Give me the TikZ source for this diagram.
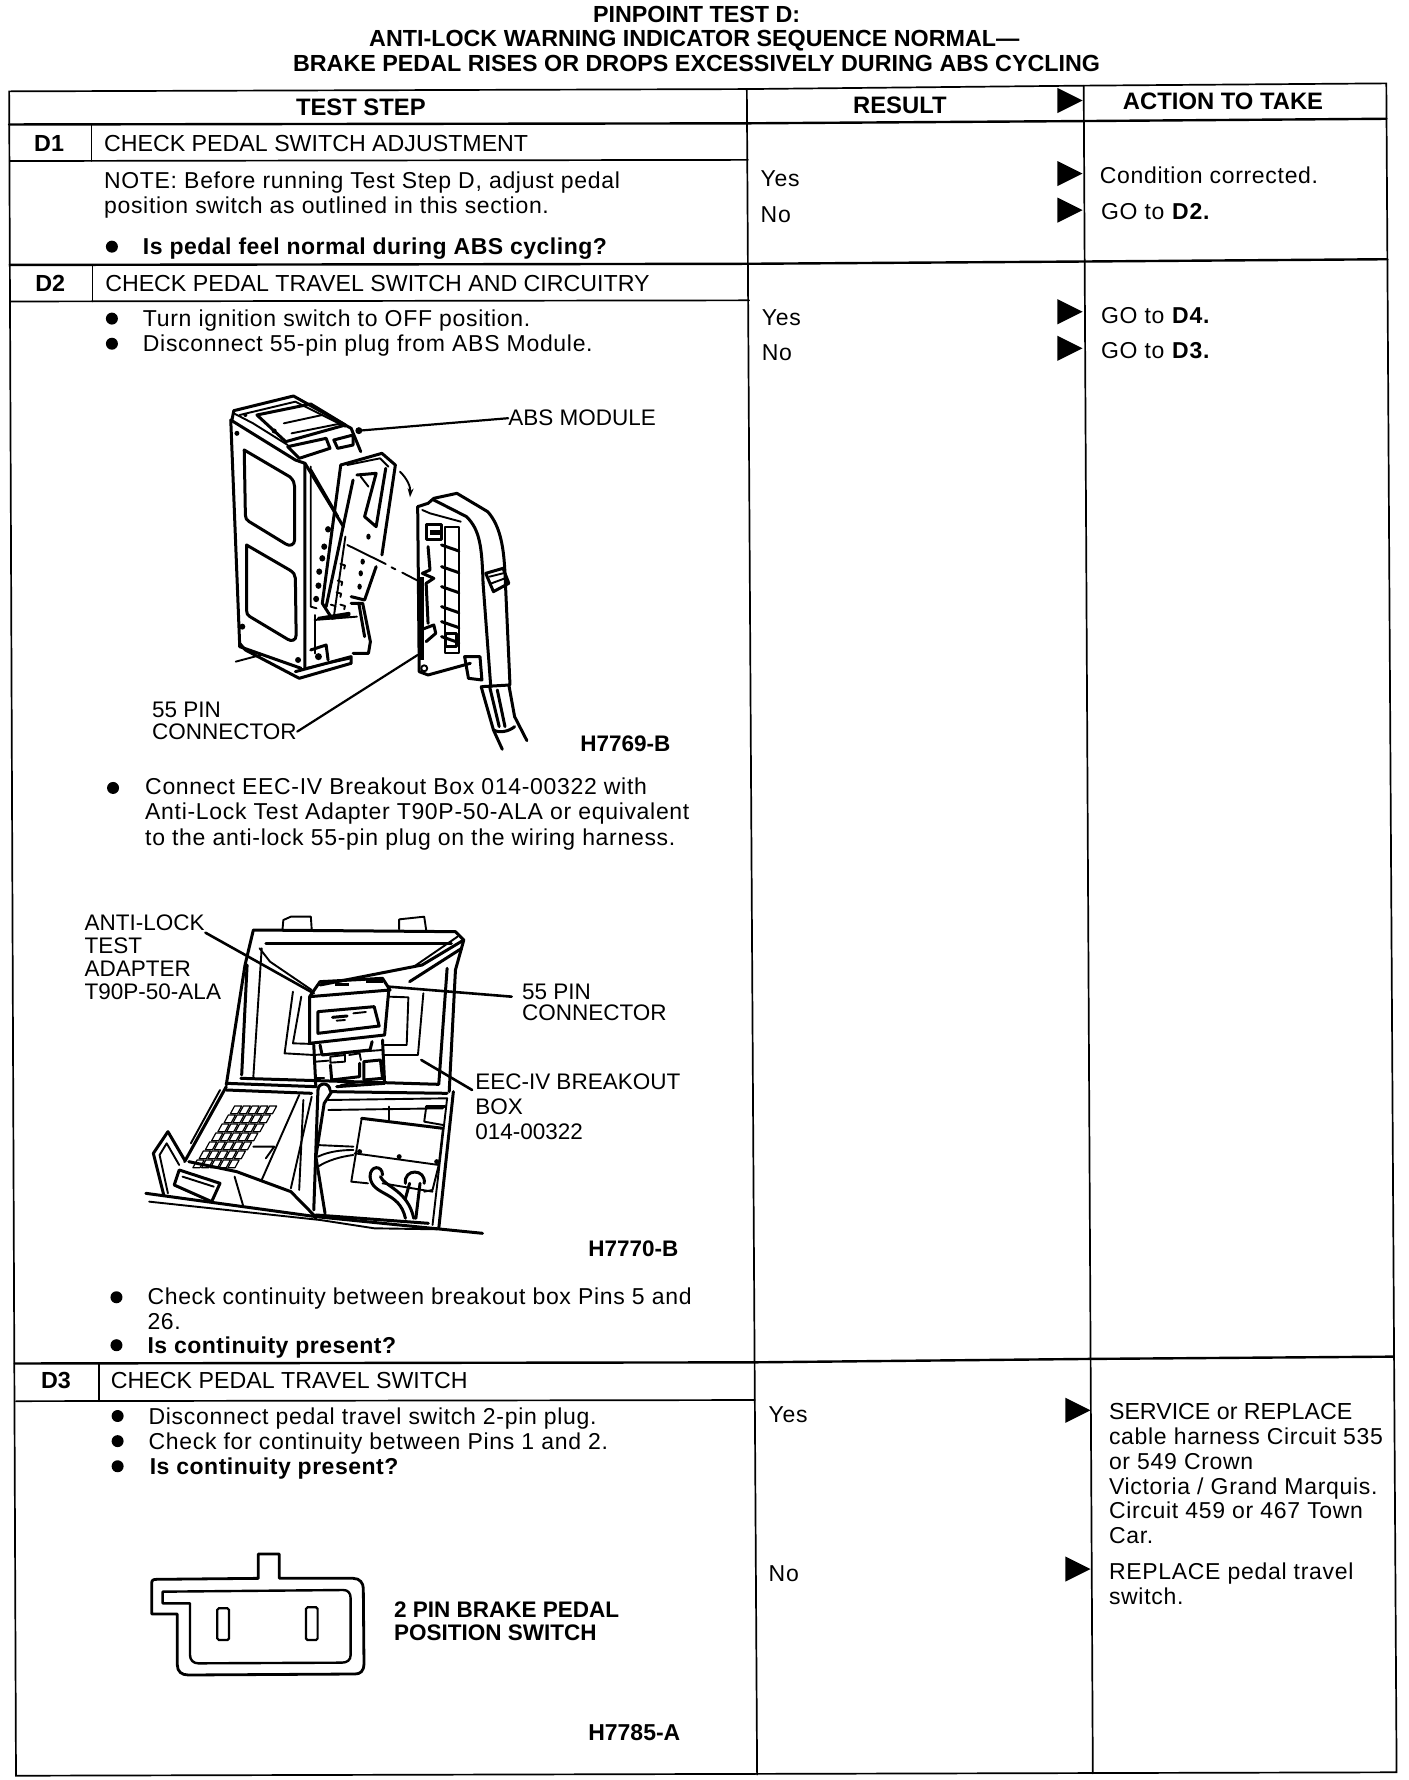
\documentclass[tikz,border=0pt]{standalone}
\usepackage{fontspec}
\setmainfont{Liberation Sans}
\newfontfamily\lsp[LetterSpace=3]{Liberation Sans}
\newfontfamily\lspb[LetterSpace=2.2]{Liberation Sans}
\usetikzlibrary{arrows.meta}
\tikzset{
 lab/.style={anchor=base west,inner sep=0pt,font=\fontsize{22.5}{25}\selectfont},
 blab/.style={lab,font=\fontsize{22.5}{25}\selectfont\bfseries},
 txt/.style={lab,font=\lsp\fontsize{23}{25}\selectfont},
 captxt/.style={lab,font=\fontsize{23.2}{25}\selectfont},
 btxt/.style={lab,font=\lspb\fontsize{23}{25}\selectfont\bfseries},
 ctr/.style={lab,anchor=base,font=\fontsize{23.3}{25}\selectfont\bfseries},
 hdr/.style={ctr,font=\fontsize{23.8}{25}\selectfont\bfseries},
 rule/.style={line width=1.7pt,line cap=round},
 heavy/.style={line width=2.4pt,line cap=round},
 art/.style={line width=1.9pt,line join=round,line cap=round},
 artb/.style={line width=3pt,line join=round,line cap=round},
 artt/.style={line width=1.2pt,line join=round,line cap=round},
 lead/.style={line width=2.2pt,line cap=round},
 tri/.style={fill=black,draw=none},
 bull/.style={circle,fill=black,inner sep=0pt,minimum size=12pt}
}
\newcommand{\Tri}[2]{\fill[tri] (#1,#2-11) -- (#1+22,#2) -- (#1,#2+11) -- cycle;}
\begin{document}
\begin{tikzpicture}[x=1pt,y=-1pt]
\useasboundingbox (0,0) rectangle (1408,1780);
\fill[white] (0,0) rectangle (1408,1780);
\begin{scope}[x=1.14193pt,y=-1.14193pt]
% titles
\node[ctr] (t1) at (610,20) {PINPOINT TEST D:};
\node[ctr] (t2) at (608,41) {ANTI-LOCK WARNING INDICATOR SEQUENCE NORMAL—};
\node[ctr] (t3) at (610,63) {BRAKE PEDAL RISES OR DROPS EXCESSIVELY DURING ABS CYCLING};
% table
\draw[rule] (8,80) -- (654,78) -- (949,75) -- (1214,73) -- (1223,1552) -- (14,1555) -- cycle;
\draw[rule] (654,78) -- (663,1554);
\draw[rule] (949,75) -- (957,1553);
\draw[heavy] (8,109) -- (654,108) -- (949,106) -- (1214,104);
\draw[rule] (8.5,141) -- (655,140);
\draw[rule] (80,109) -- (80,141);
\draw[heavy] (8.5,232) -- (655,231) -- (950,229) -- (1215,227);
\draw[rule] (9,264) -- (656,263);
\draw[rule] (81,232) -- (81,264);
\draw[heavy] (13,1194) -- (660,1193) -- (955,1190) -- (1220,1188);
\draw[rule] (14,1227) -- (661,1226);
\draw[rule] (87,1194) -- (87,1227);
% arrows
\Tri{926}{88} \Tri{926}{152} \Tri{926}{184} \Tri{926}{273} \Tri{926}{305} \Tri{933}{1235} \Tri{933}{1374}
% headers
\node[hdr] (h1) at (316,101) {TEST STEP};
\node[hdr] (h2) at (788,99) {RESULT};
\node[hdr] (h3) at (1071,96) {ACTION TO TAKE};
% D1
\node[ctr] (d1) at (43,133) {D1};
\node[captxt] (d1t) at (91,133) {CHECK PEDAL SWITCH ADJUSTMENT};
\node[txt] (n1) at (91,165) {NOTE: Before running Test Step D, adjust pedal};
\node[txt] (n2) at (91,187) {position switch as outlined in this section.};
\node[bull] (b1) at (98,216) {};
\node[btxt] (q1) at (125,223) {Is pedal feel normal during ABS cycling?};
\node[txt] (y1) at (666,163) {Yes};
\node[txt] (no1) at (666,195) {No};
\node[txt] (a1) at (963,161) {Condition corrected.};
\node[txt] (a2) at (964,192) {GO to \textbf{D2.}};
% D2
\node[ctr] (d2) at (44,255) {D2};
\node[captxt] (d2t) at (92,255) {CHECK PEDAL TRAVEL SWITCH AND CIRCUITRY};
\node[bull] (b2) at (98,279) {};
\node[txt] (s1) at (125,286) {Turn ignition switch to OFF position.};
\node[bull] (b3) at (98,301) {};
\node[txt] (s2) at (125,308) {Disconnect 55-pin plug from ABS Module.};
\node[txt] (y2) at (667,285) {Yes};
\node[txt] (no2) at (667,316) {No};
\node[txt] (a3) at (964,283) {GO to \textbf{D4.}};
\node[txt] (a4) at (964,314) {GO to \textbf{D3.}};
\node[lab] (abs) at (445,373) {ABS MODULE};
\node[lab] (p1a) at (133,628) {55 PIN};
\node[lab] (p1b) at (133,648) {CONNECTOR};
\node[blab] (f1) at (508,658) {H7769-B};
\node[bull] (b4) at (99,690) {};
\node[txt] (s3) at (127,696) {Connect EEC-IV Breakout Box 014-00322 with};
\node[txt] (s4) at (127,718) {Anti-Lock Test Adapter T90P-50-ALA or equivalent};
\node[txt] (s5) at (127,740) {to the anti-lock 55-pin plug on the wiring harness.};
\node[lab] (l1) at (74,815) {ANTI-LOCK};
\node[lab] (l2) at (74,835) {TEST};
\node[lab] (l3) at (74,855) {ADAPTER};
\node[lab] (l4) at (74,875) {T90P-50-ALA};
\node[lab] (p2a) at (457,875) {55 PIN};
\node[lab] (p2b) at (457,894) {CONNECTOR};
\node[lab] (e1) at (416,954) {EEC-IV BREAKOUT};
\node[lab] (e2) at (416,976) {BOX};
\node[lab] (e3) at (416,998) {014-00322};
\node[blab] (f2) at (515,1100) {H7770-B};
\node[bull] (b5) at (102,1136) {};
\node[txt] (s6) at (129,1142) {Check continuity between breakout box Pins 5 and};
\node[txt] (s7) at (129,1164) {26.};
\node[bull] (b6) at (102,1178) {};
\node[btxt] (q2) at (129,1185) {Is continuity present?};
% D3
\node[ctr] (d3) at (49,1216) {D3};
\node[captxt] (d3t) at (97,1216) {CHECK PEDAL TRAVEL SWITCH};
\node[bull] (b7) at (103,1240) {};
\node[txt] (s8) at (130,1247) {Disconnect pedal travel switch 2-pin plug.};
\node[bull] (b8) at (103,1262) {};
\node[txt] (s9) at (130,1269) {Check for continuity between Pins 1 and 2.};
\node[bull] (b9) at (103,1284) {};
\node[btxt] (q3) at (131,1291) {Is continuity present?};
\node[txt] (y3) at (673,1246) {Yes};
\node[txt] (no3) at (673,1385) {No};
\node[captxt] (r1) at (971,1243) {SERVICE or REPLACE};
\node[txt] (r2) at (971,1265) {cable harness Circuit 535};
\node[txt] (r3) at (971,1287) {or 549 Crown};
\node[txt] (r4) at (971,1309) {Victoria / Grand Marquis.};
\node[txt] (r5) at (971,1330) {Circuit 459 or 467 Town};
\node[txt] (r6) at (971,1352) {Car.};
\node[txt] (r7) at (971,1383) {REPLACE pedal travel};
\node[txt] (r8) at (971,1405) {switch.};
\node[blab] (sw1) at (345,1416) {2 PIN BRAKE PEDAL};
\node[blab] (sw2) at (345,1437) {POSITION SWITCH};
\node[btxt] (f3) at (515,1524) {\fontspec{Liberation Sans}H7785-A};
\end{scope}

% ===== ABS module drawing =====
\begin{scope}[shift={(130,370)},x=0.3846pt,y=-0.3333pt]
% top
\draw[artb] (265,150) -- (270,122) -- (425,78) -- (575,175) -- (600,245);
\draw[art] (285,135) -- (430,95) -- (560,170);
\draw[artb] (330,135) -- (470,102) -- (560,165) -- (405,215) -- cycle;
\draw[art] (400,160) -- (500,135);
\draw[art] (420,190) -- (550,160);
\draw[artb] (410,230) -- (510,205) -- (520,235) -- (440,265) -- cycle;
\draw[artb] (530,210) -- (580,195) -- (580,225) -- (540,235) -- cycle;
\draw[art] (270,130) -- (320,160) -- (410,225);
\fill (375,183) circle (2.5pt);
\fill (278,190) circle (2.5pt);
\fill (300,135) circle (2pt);
% left face
\draw[artb] (262,150) -- (285,820) -- (285,830) -- (445,895);
\draw[artb] (262,150) -- (430,270) -- (455,280) -- (455,895);
\draw[artb] (297,240) -- (415,320) .. controls (425,330) and (428,340) .. (428,350) -- (428,510) .. controls (428,525) and (415,530) .. (405,522) -- (310,455) .. controls (303,450) and (300,445) .. (300,435) -- cycle;
\draw[artb] (303,525) -- (415,600) .. controls (425,607) and (430,615) .. (430,625) -- (432,795) .. controls (432,812) and (420,815) .. (410,808) -- (312,740) .. controls (305,735) and (303,730) .. (303,720) -- cycle;
% bottom
\draw[art] (275,875) -- (340,855);
\draw[artb] (285,820) -- (300,840) -- (440,925) -- (575,880) -- (575,860) -- (430,905);
\draw[art] (455,895) -- (575,865);
\fill (292,770) circle (3pt);
\fill (437,870) circle (3pt);
\fill (490,860) circle (3.5pt);
\draw[artb] (470,840) -- (510,825) -- (515,870);
% right side panel
\draw[artb] (455,280) -- (555,470);
\draw[artb] (470,300) -- (540,440);
\draw[art] (470,290) -- (470,710) -- (485,715);
\draw[artb] (575,700) -- (605,700) -- (625,815) -- (620,850) -- (580,850);
\draw[artb] (595,700) -- (610,800);
\draw[art] (480,735) -- (480,850);
\draw[artb] (490,745) -- (570,730);
\draw[art] (480,750) -- (590,740);
\foreach \a/\b in {515/478,505/530,500/565,492/605,490/647,484/687} \fill (\a,\b) ellipse (3pt and 3.2pt);
% lever
\draw[artb] (548,285) -- (655,250) -- (690,285) -- (655,555);
\draw[artb] (548,285) -- (500,700) -- (525,745) -- (570,735);
\draw[artb] (580,330) -- (510,710);
\draw[art] (565,285) -- (650,265) -- (672,290);
\draw[artb] (590,315) -- (640,310) -- (610,440) -- (640,470) -- (665,295);
\draw[art] (600,320) -- (620,350);
\draw[artb] (640,590) -- (610,690) -- (575,680);
\draw[art] (560,500) -- (530,740);
\foreach \a/\b in {620/500,605/575,600/610,597/650} \fill (\a,\b) ellipse (2.2pt and 3pt);
\foreach \a/\b in {555/590,548/640,545/675,530/712,555/712} \draw[art] (\a,\b) ++(-8,-8) -- ++(12,4) -- ++(-2,10);
% rotation arrow
\draw[art,-{Stealth[length=9pt,width=6pt]}] (702,305) .. controls (720,325) and (730,350) .. (728,382);
% dashes
\coordinate (dashA) at (565,525);
\coordinate (dashB) at (748,632);
\draw[art] (dashA) -- (665,582);
\draw[art] (680,592) -- (690,598);
\draw[art] (708,608) -- (dashB);
% connector
\draw[artb] (748,410) -- (775,400) -- (790,385) -- (850,370) -- (930,425);
\draw[artb] (748,410) -- (752,905) -- (775,915) -- (885,880);
\draw[art] (760,420) -- (780,430) -- (860,455);
\draw[artb] (790,390) -- (875,440) .. controls (910,480) and (915,530) .. (918,640);
\draw[artb] (918,640) -- (938,950);
\draw[artb] (930,425) .. controls (965,470) and (972,540) .. (975,610) -- (988,945) -- (915,950);
\draw[artb] (770,465) -- (810,465) -- (810,510) -- (770,510) -- cycle;
\fill (780,480) rectangle (805,495);
\draw[art] (820,470) -- (855,470) -- (855,850) -- (820,850) -- cycle;
\foreach \yy in {525,590,650,710,755,800} {\draw[artb] (810,\yy) -- (855,\yy+18);}
\draw[artb] (820,790) rectangle (850,830);
\draw[artb] (775,530) -- (780,600) -- (760,610) -- (790,625) -- (770,640) -- (775,760);
\draw[artb] (755,780) -- (790,765) -- (795,790) -- (770,815);
\fill (755,620) rectangle (765,870);
\draw[art] (765,895) circle (3pt);
\draw[artb] (870,860) -- (910,860) -- (915,930) -- (880,925) -- cycle;
\draw[artb] (925,610) -- (970,595) -- (985,640) -- (945,665) -- cycle;
\draw[art] (935,620) -- (970,610);
\draw[art] (940,640) -- (975,625);
% cable
\draw[artb] (913,950) -- (945,1080) -- (968,1138);
\draw[artb] (985,945) -- (1000,1040) -- (1032,1112);
\draw[artb] (945,1080) .. controls (960,1090) and (985,1085) .. (1000,1070);
\draw[artb] (935,950) -- (960,1070);
\draw[artb] (955,960) -- (975,1070);
% leaders
\coordinate (absEnd) at (595,182);
\coordinate (p1End) at (748,855);
\draw[lead] (abs.west) -- (absEnd);
\fill (absEnd) circle (3.5pt);
\draw[lead] (p1b.east) ++(1,-2) -- (p1End);
\end{scope}

% ===== Breakout box drawing =====
\begin{scope}[shift={(70,890)},x=0.4167pt,y=-0.3333pt]
% lid
\draw[artb] (375,585) -- (420,225) -- (440,120) -- (925,125) -- (945,150) -- (925,240) -- (910,605);
\draw[art] (510,118) -- (512,90) -- (530,80) -- (578,80) -- (580,118);
\draw[art] (790,118) -- (790,88) -- (850,80) -- (855,122);
\draw[artb] (470,160) -- (915,160);
\draw[art] (455,175) -- (480,215) -- (580,300);
\draw[art] (460,175) -- (440,560);
\draw[artb] (412,555) -- (425,225);
\draw[artb] (410,565) -- (885,583) -- (905,235);
% strap
\draw[artb] (945,150) -- (845,225) -- (600,285);
\draw[artb] (940,175) -- (815,275);
\draw[art] (930,140) -- (825,230);
% inner panel
\draw[art] (535,305) -- (515,490) -- (585,495);
\draw[art] (555,320) -- (535,460) -- (585,462);
\draw[art] (765,320) -- (812,322) -- (808,465) -- (755,465);
\draw[art] (848,310) -- (835,495) -- (750,495);
% adapter
\draw[artb] (600,275) -- (750,265) -- (768,300) -- (575,320) -- cycle;
\fill (635,278) rectangle (670,288);
\fill (710,268) rectangle (750,278);
\draw[artb] (575,320) -- (575,460) -- (755,435) -- (765,300);
\draw[artb] (595,365) -- (730,350) -- (742,408) -- (595,430) -- cycle;
\draw[artb] (630,382) -- (665,378);
\draw[art] (680,370) -- (710,366);
\draw[art] (640,392) -- (660,390);
% connector block
\draw[artb] (585,465) -- (590,590);
\draw[artb] (750,450) -- (755,580) -- (640,590);
\draw[art] (585,495) -- (750,480);
\draw[artb] (600,465) -- (605,495) -- (720,480) -- (725,455);
\draw[art] (590,515) -- (620,512);
\draw[art] (625,500) -- (660,495) -- (660,515) -- (625,518) -- cycle;
\draw[art] (670,495) -- (695,490) -- (698,510);
\draw[artb] (705,515) -- (745,510) -- (750,565) -- (705,570) -- cycle;
\draw[artb] (625,525) -- (628,570) -- (695,560) -- (695,520);
\draw[art] (590,565) -- (610,565);
\draw[art] (650,585) -- (700,575);
% hinge
\draw[artb] (375,580) -- (590,590);
\draw[artb] (375,600) -- (580,610);
\draw[artb] (625,605) -- (905,610);
\draw[artb] (595,600) arc (180:0:6pt and 6pt);
\draw[artb] (595,600) -- (585,960);
\draw[artb] (628,605) -- (610,640) -- (590,800) -- (612,970);
% base
\draw[artb] (920,605) -- (885,1015);
\draw[art] (905,625) -- (870,1005);
\draw[art] (620,630) -- (905,625);
\draw[artb] (375,590) -- (275,815);
\draw[art] (360,600) -- (290,760);
\draw[art] (550,615) -- (460,870);
\draw[art] (580,620) -- (530,895);
\draw[art] (560,630) -- (550,900);
% keypad
\foreach \r in {0,...,6} \foreach \c in {0,...,4}
 \draw[artt,fill=white] ({395+\c*21-\r*15},{648+\r*27}) -- ++(17,0) -- ++(-10,23) -- ++(-17,0) -- cycle;
\draw[artb] (285,815) -- (400,845) -- (530,905) -- (585,975) -- (590,985);
\draw[art] (440,770) -- (490,770) -- (470,805);
% stand
\draw[artb] (275,810) -- (235,725) -- (200,790) -- (225,915);
\draw[art] (262,825) -- (232,760) -- (215,795) -- (235,910);
\draw[artb,fill=white] (262,840) -- (360,880) -- (340,935) -- (250,885) -- cycle;
\draw[art] (270,860) -- (345,890);
\draw[art] (395,860) -- (415,945);
% right tray
\draw[art] (620,660) -- (895,655);
\draw[art] (765,650) -- (765,690);
\draw[artb] (855,650) -- (900,650);
\draw[art] (855,650) -- (850,695) -- (895,705);
\draw[artb] (700,685) -- (895,715);
\draw[art] (700,685) -- (675,875) -- (715,880);
\draw[art] (683,790) -- (885,825) -- (870,900) -- (850,905);
\draw[art] (895,715) -- (885,825);
\fill (695,785) circle (2.5pt);
\fill (790,800) circle (2.5pt);
\fill (880,815) circle (2.5pt);
\draw[art] (590,765) -- (680,770);
\draw[art] (595,800) .. controls (620,785) and (650,780) .. (680,780);
\draw[art] (595,830) .. controls (620,810) and (650,800) .. (680,795);
\draw[artb] (720,860) .. controls (720,825) and (750,825) .. (750,855);
\draw[artb] (720,860) .. controls (725,920) and (790,900) .. (805,985);
\draw[artb] (745,860) .. controls (755,890) and (810,900) .. (825,985);
\draw[artb] (805,880) .. controls (800,835) and (855,835) .. (850,880);
\draw[artb] (815,880) -- (805,925);
\draw[artb] (840,880) -- (830,985);
\draw[art] (750,880) -- (870,905);
% base lines
\draw[artb] (182,910) -- (590,980) -- (990,1030);
\draw[art] (190,935) -- (600,990) -- (730,1015) -- (880,1018);
\draw[artb] (590,975) -- (860,1000);
% leaders
\coordinate (adEnd) at (585,310);
\coordinate (connEnd) at (765,290);
\coordinate (boxEnd) at (843,510);
\draw[lead,line width=2.6pt] (325,128) -- (adEnd);
\draw[lead,line width=2.6pt] (1060,320) -- (connEnd);
\draw[lead,line width=2.6pt] (965,600) -- (boxEnd);
\end{scope}

% ===== Switch plug =====
\begin{scope}[shift={(120,1530)},x=0.3333pt,y=-0.3333pt]
\draw[line width=2.8pt,line join=round] (415,145) -- (415,72) -- (478,72) -- (478,145) -- (700,145) .. controls (720,145) and (730,160) .. (730,175) -- (732,400) .. controls (732,425) and (720,432) .. (705,432) -- (205,435) .. controls (185,435) and (172,425) .. (172,405) -- (172,252) -- (95,252) -- (95,160) .. controls (95,150) and (100,148) .. (110,148) -- cycle;
\draw[line width=2.4pt,line join=round] (128,185) -- (670,180) .. controls (685,180) and (692,190) .. (692,205) -- (692,375) .. controls (692,390) and (682,398) .. (665,398) -- (235,400) .. controls (220,400) and (210,390) .. (210,375) -- (210,220) -- (128,220) -- cycle;
\draw[line width=2.2pt,rounded corners=1.5pt] (292,235) rectangle (327,330);
\draw[line width=2.2pt,rounded corners=1.5pt] (558,232) rectangle (593,330);
\end{scope}
\end{tikzpicture}
\end{document}
